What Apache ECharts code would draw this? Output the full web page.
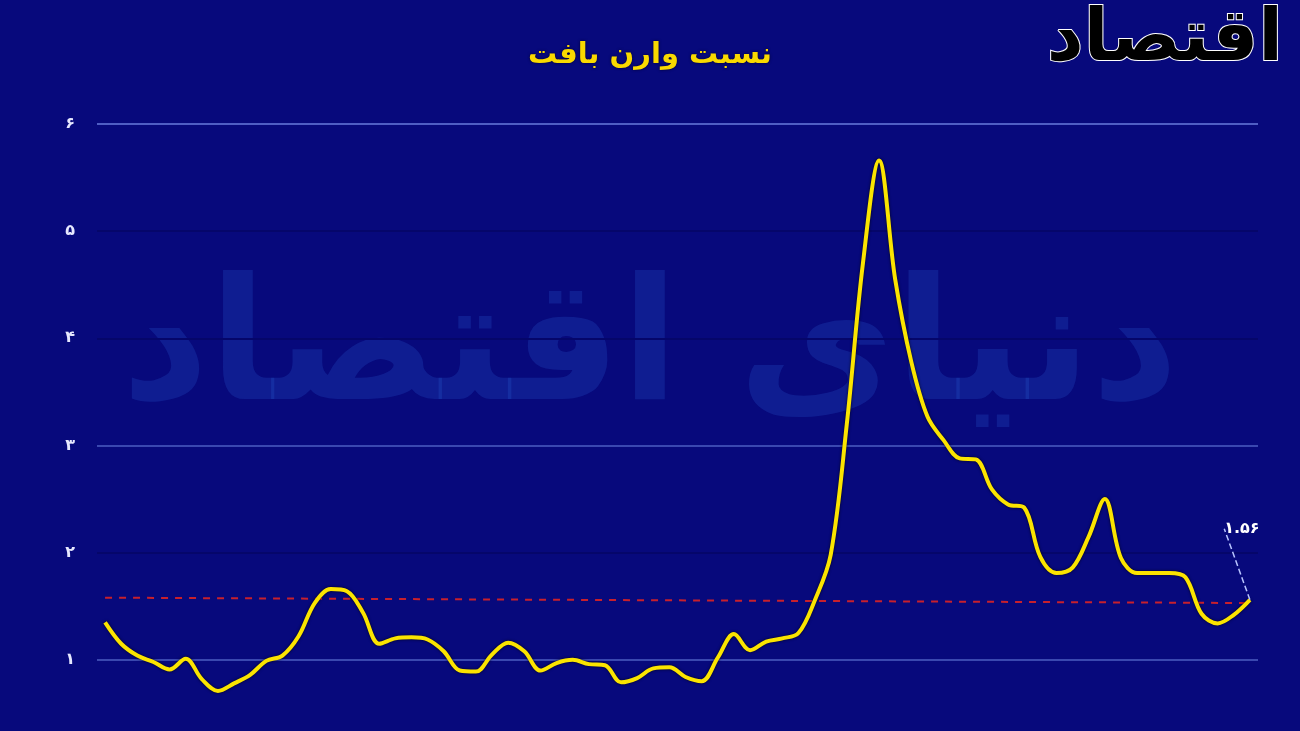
<!DOCTYPE html>
<html>
<head>
<meta charset="utf-8">
<script src="https://cdn.jsdelivr.net/npm/echarts@6/dist/echarts.min.js"></script>
<style>
html,body{margin:0;padding:0;background:#07097c;}
#chart{width:1300px;height:731px;}
</style>
</head>
<body>
<div id="chart"></div>
<script>
// ---- data ----
const titleText = 'نسبت وارن بافت';
const categories = Array.from({length: 72}, (_, i) => String(i + 1));
const ratioValues = [
  1.35, 1.15, 1.04, 0.98, 0.91, 1.01, 0.82, 0.71, 0.78, 0.86,
  0.99, 1.04, 1.22, 1.53, 1.66, 1.64, 1.44, 1.15, 1.20, 1.21,
  1.19, 1.08, 0.90, 0.89, 1.05, 1.16, 1.08, 0.90, 0.97, 1.00,
  0.96, 0.95, 0.79, 0.83, 0.92, 0.93, 0.84, 0.80, 1.02, 1.24,
  1.09, 1.17, 1.20, 1.25, 1.55, 1.98, 3.20, 4.70, 5.66, 4.55,
  3.78, 3.27, 3.05, 2.88, 2.87, 2.59, 2.45, 2.42, 1.96, 1.81,
  1.86, 2.15, 2.50, 1.95, 1.81, 1.81, 1.81, 1.77, 1.43, 1.34,
  1.42, 1.56
];
const yTickLabels = ['', '۱', '۲', '۳', '۴', '۵', '۶'];
const refLineStart = 1.58;
const refLineEnd = 1.53;
const lastLabel = '۱.۵۶';
const watermarkText = 'دنیای اقتصاد';
const logoText = 'اقتصاد';

const chart = echarts.init(document.getElementById('chart'));
const lastIdx = ratioValues.length - 1;
const seriesData = ratioValues.map((v, i) => {
  if (i !== lastIdx) return v;
  return {
    value: v,
    label: {
      show: true,
      formatter: lastLabel,
      position: 'top',
      color: '#ffffff',
      fontFamily: 'DejaVu Sans',
      fontWeight: 'bold',
      fontSize: 16
    },
    labelLine: {
      show: true,
      lineStyle: {color: '#b8c4ff', width: 1.5, type: 'dashed'}
    }
  };
});

chart.setOption({
  backgroundColor: '#07097c',
  animation: false,
  title: {
    text: titleText,
    left: 'center',
    top: 36,
    textStyle: {
      color: '#f9d900',
      fontFamily: 'DejaVu Sans',
      fontWeight: 'bold',
      fontSize: 29,
      textShadowColor: '#000030',
      textShadowBlur: 3
    }
  },
  graphic: [
    {
      type: 'text',
      left: 'center',
      top: 270,
      z: -1,
      silent: true,
      style: {
        text: watermarkText,
        font: 'bold 170px "DejaVu Sans"',
        fill: 'rgba(40,95,215,0.24)'
      }
    },
    {
      type: 'text',
      right: 16,
      top: 4,
      z: 10,
      style: {
        text: logoText,
        font: 'bold 72px "DejaVu Sans"',
        fill: '#000000',
        stroke: '#ffffff',
        lineWidth: 2
      }
    }
  ],
  grid: {left: 97, right: 42, top: 124, height: 643, outerBoundsMode: 'none', containLabel: false},
  xAxis: {
    type: 'category',
    data: categories,
    boundaryGap: true,
    show: false
  },
  yAxis: {
    type: 'value',
    min: 0,
    max: 6,
    interval: 1,
    axisLine: {show: false},
    axisTick: {show: false},
    axisLabel: {
      margin: 22,
      color: '#e6e8ff',
      fontFamily: 'DejaVu Sans',
      fontWeight: 'bold',
      fontSize: 16,
      formatter: v => yTickLabels[v]
    },
    splitLine: {
      lineStyle: {
        width: 2,
        color: ['#2a36a0', '#3a48b0', '#05066a', '#3a48b0', '#05066a', '#05066a', '#4f5ec4']
      }
    }
  },
  series: [{
    type: 'line',
    data: seriesData,
    smooth: 0.35,
    symbol: 'circle',
    symbolSize: 0,
    showSymbol: true,
    showAllSymbol: true,
    z: 5,
    lineStyle: {
      color: '#fbe400',
      width: 4,
      shadowColor: 'rgba(0,0,0,0.8)',
      shadowBlur: 3
    },
    labelLayout: function (params) {
      if (params.dataIndex === lastIdx) {
        return {dx: -8, dy: -58};
      }
    },
    markLine: {
      silent: true,
      symbol: 'none',
      label: {show: false},
      lineStyle: {color: '#c8202c', width: 2, type: [7, 7]},
      data: [[
        {coord: [categories[0], refLineStart]},
        {coord: [categories[lastIdx], refLineEnd]}
      ]]
    }
  }]
});
</script>
</body>
</html>
